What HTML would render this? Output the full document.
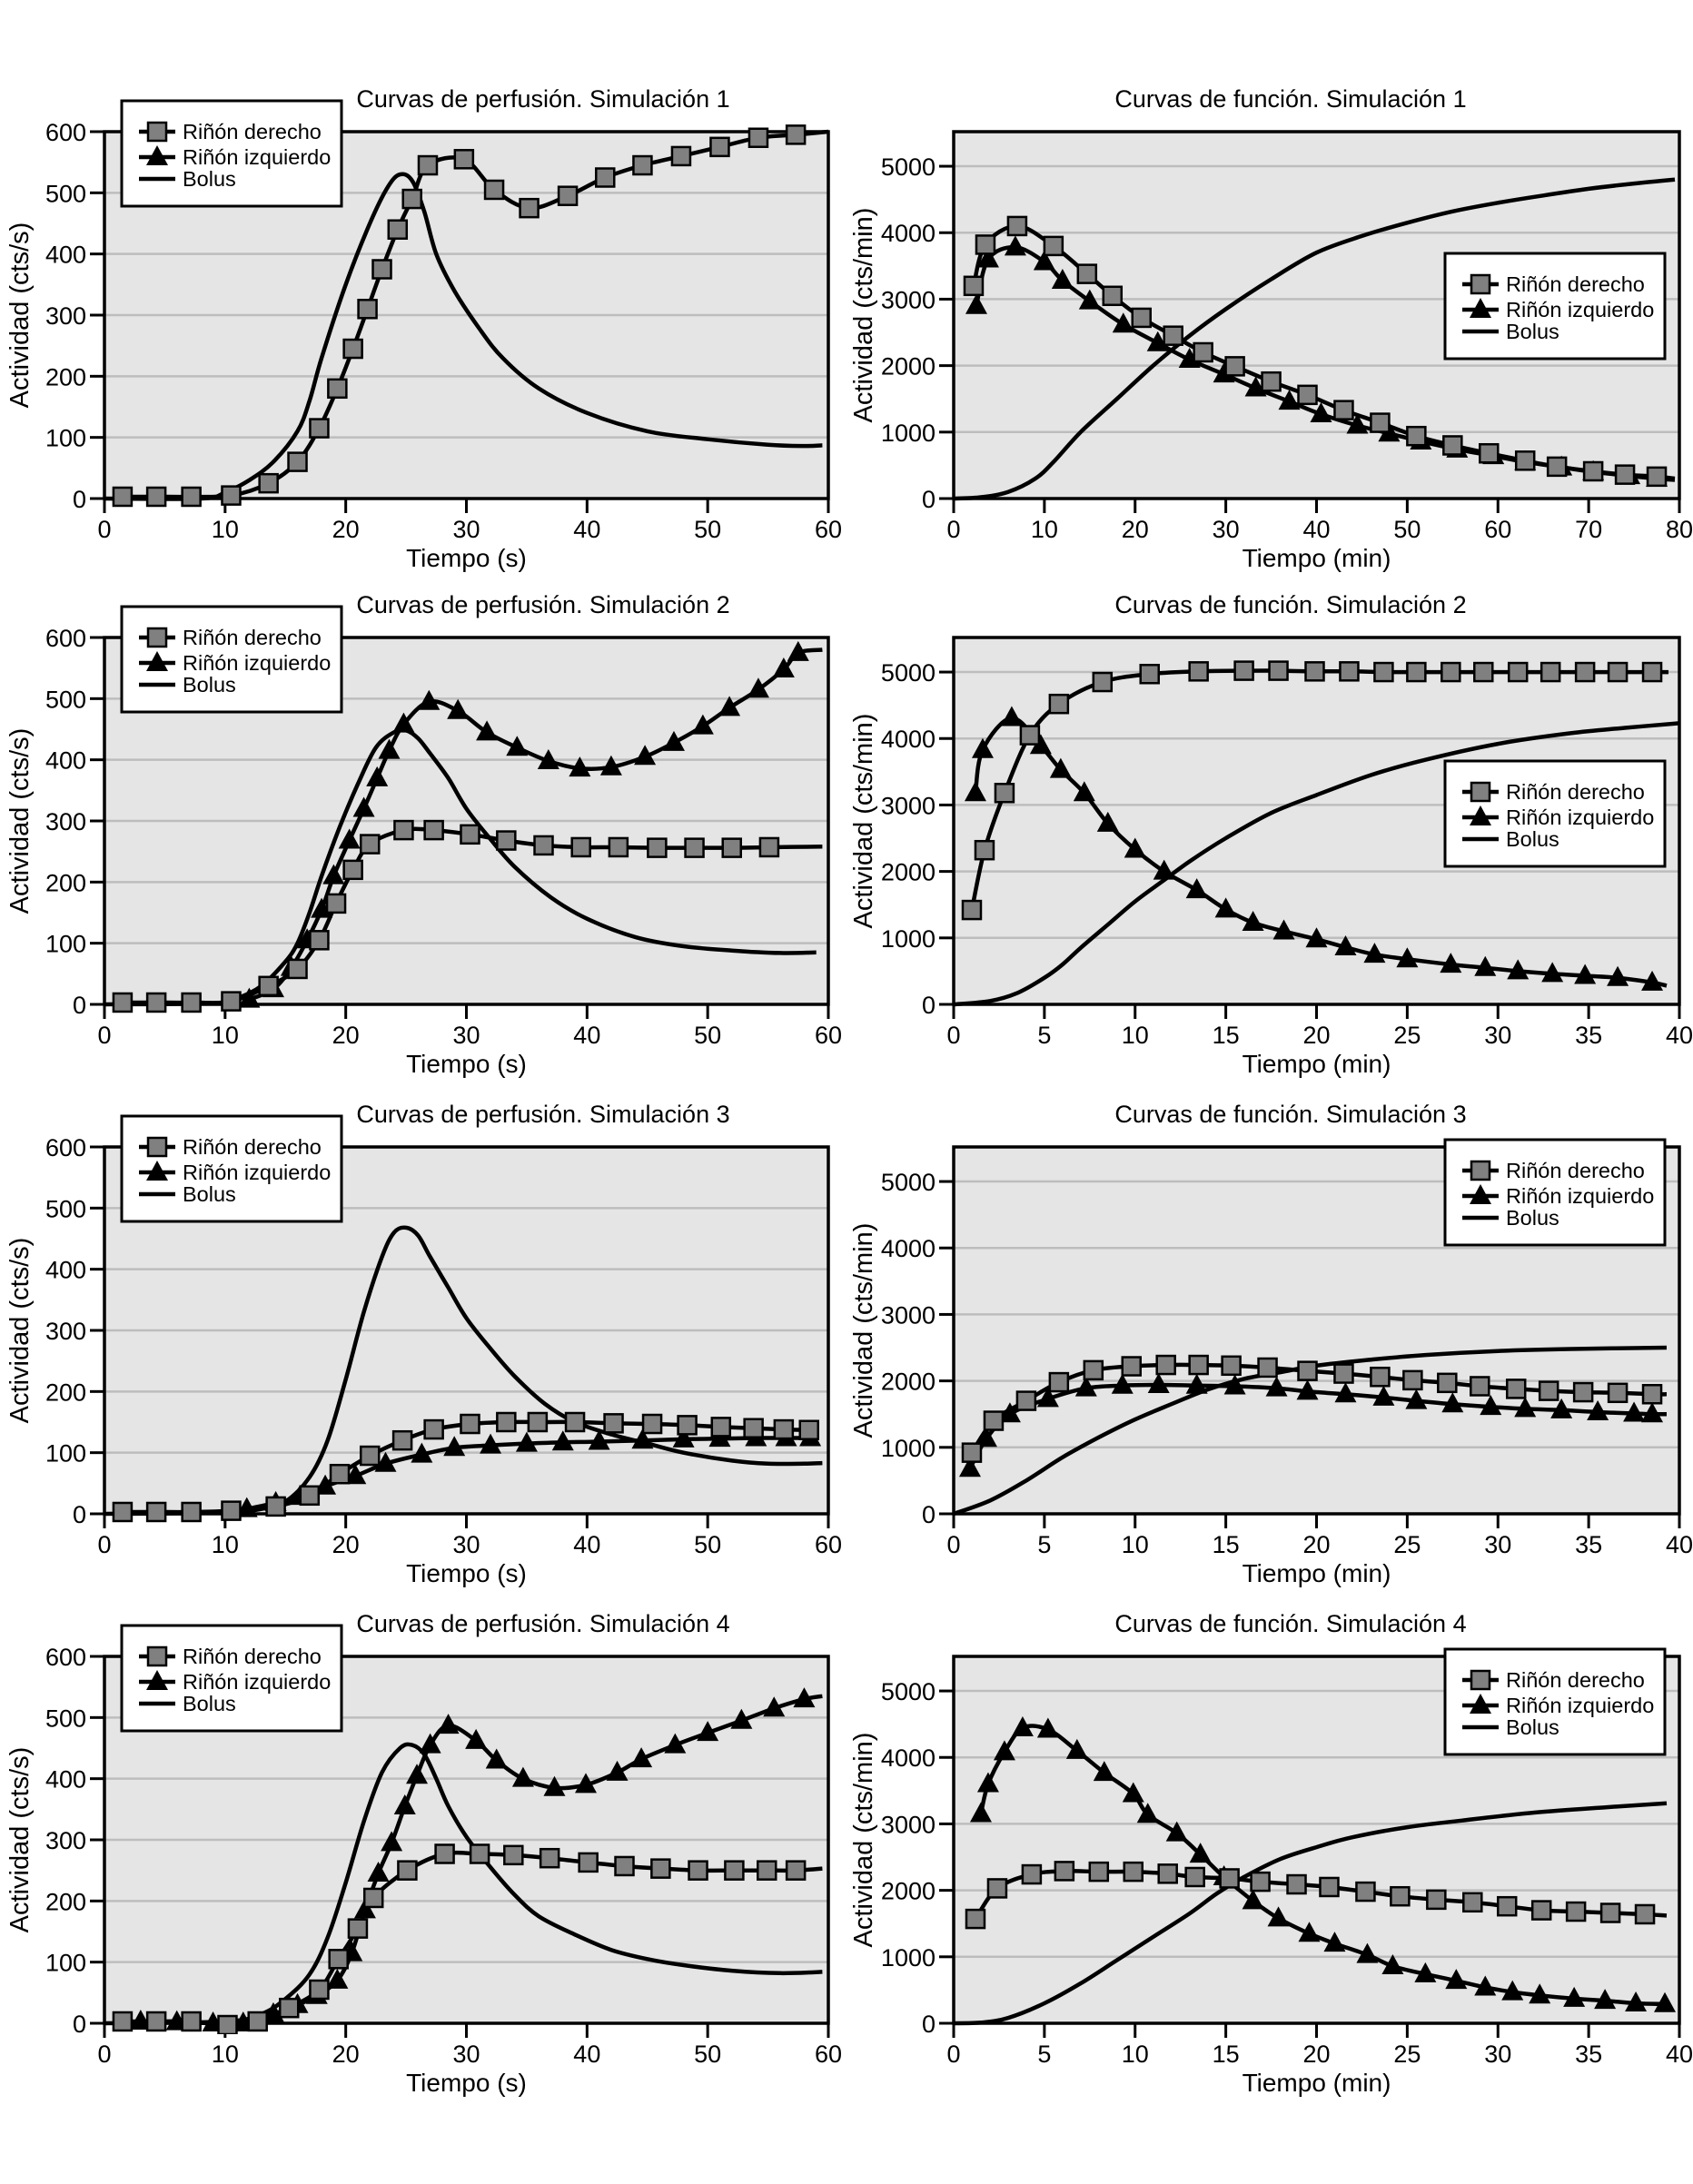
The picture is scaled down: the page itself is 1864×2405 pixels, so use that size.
<!DOCTYPE html>
<html><head><meta charset="utf-8"><style>
body{margin:0;background:#fff}
svg text{font-family:"Liberation Sans",sans-serif;fill:#000}
</style></head><body>
<svg id="fig" xmlns="http://www.w3.org/2000/svg" width="1864" height="2400" viewBox="0 0 1864 2400"></svg>
<script>
// ---- data arrays (x, y pairs) ----
const p1Sq=[[1.5,3],[4.3,3],[7.2,3],[10.5,5],[13.6,25],[16,60],[17.8,115],[19.3,180],[20.6,245],[21.8,310],[23,375],[24.3,440],[25.5,490],[26.8,545],[29.8,555],[32.3,505],[35.2,475],[38.4,495],[41.5,525],[44.6,545],[47.8,560],[51,575],[54.2,590],[57.3,595]];
const p1SqEnd=[[60,600]];
const p1Bol=[[0,0],[8,0],[10,10],[12,30],[14,60],[16,110],[17,160],[18,230],[20,350],[22,450],[23.5,510],[24.5,530],[25.5,520],[26.5,470],[27.5,400],[29,340],[31,280],[33,230],[36,180],[40,140],[45,110],[50,97],[55,88],[58,86],[59.5,87]];

const p2Sq=[[1.5,3],[4.3,3],[7.2,3],[10.5,5],[13.6,30],[16,58],[17.8,105],[19.2,165],[20.6,220],[22,262],[24.8,285],[27.3,285],[30.3,278],[33.3,268],[36.4,260],[39.5,257],[42.6,257],[45.8,256],[48.9,256],[52,256],[55.1,257]];
const p2SqEnd=[[59.5,258]];
const p2Tri=[[12,8],[14,25],[15.5,60],[16.8,105],[18,155],[19,210],[20.3,268],[21.5,320],[22.6,370],[23.6,415],[24.8,458],[26.9,495],[29.3,480],[31.7,445],[34.2,420],[36.8,398],[39.4,386],[42,388],[44.8,405],[47.2,428],[49.6,455],[51.8,485],[54.2,515],[56.3,548],[57.5,575]];
const p2TriEnd=[[59.5,580]];
const p2Bol=[[0,0],[9,2],[11,10],[13,30],[15,70],[16,100],[17,150],[18,210],[19.5,290],[21,360],[22.5,420],[24,445],[25,448],[26,435],[27,410],[28.5,370],[30,320],[32,270],[34,225],[37,175],[40,140],[44,110],[48,95],[52,88],[56,84],[59,85]];

const p3Sq=[[1.5,3],[4.3,3],[7.2,3],[10.5,5],[14.2,12],[17,30],[19.5,65],[22,95],[24.7,120],[27.3,138],[30.3,147],[33.3,150],[35.9,150],[39,150],[42.2,148],[45.4,147],[48.3,145],[51.1,142],[53.8,140],[56.3,138],[58.4,137]];
const p3Tri=[[11.8,8],[14.2,18],[16.2,28],[18.3,45],[20.8,62],[23.3,82],[26.3,97],[29,108],[32,112],[35,115],[38,117],[41,118],[44.6,120],[48,122],[51,123],[54,124],[56.5,124],[58.5,124]];
const p3Bol=[[0,0],[10,2],[13,8],[15,20],[17,60],[18.5,120],[20,220],[21.5,330],[23,420],[24,460],[25,468],[26,455],[27,420],[28.5,370],[30,320],[32,270],[34,225],[36.5,180],[39,150],[42,130],[45,115],[48,100],[52,87],[55,82],[58,82],[59.5,83]];

const p4Sq=[[1.5,3],[4.3,3],[7.2,3],[10.2,-3],[12.7,3],[15.3,25],[17.8,55],[19.4,105],[21,155],[22.3,205],[25.1,250],[28.2,277],[31.1,277],[33.9,275],[36.9,270],[40.1,263],[43.1,257],[46.1,253],[49.2,250],[52.2,250],[54.9,250],[57.3,250]];
const p4SqEnd=[[59.5,253]];
const p4Tri=[[3,3],[6,2],[9,0],[11.5,0],[14,15],[16,30],[17.6,45],[19.3,70],[20.5,115],[21.6,185],[22.7,245],[23.8,295],[24.9,355],[25.9,405],[27,455],[28.5,487],[30.8,462],[32.5,430],[34.7,400],[37.3,385],[39.9,390],[42.5,410],[44.5,432],[47.3,455],[50,475],[52.8,495],[55.5,515],[58,530]];
const p4TriEnd=[[59.5,535]];
const p4Bol=[[0,0],[10,3],[13,15],[15,40],[17,80],[18.5,140],[20,230],[21.5,330],[23,410],[24.5,450],[25.5,455],[26.5,440],[27.5,400],[28.5,355],[30,305],[32,255],[34,210],[36,175],[39,145],[42,120],[45,105],[48,95],[52,86],[56,82],[59.5,84]];

const r1Sq=[[2.2,3200],[3.5,3820],[7,4100],[11,3800],[14.7,3380],[17.5,3050],[20.7,2720],[24.2,2450],[27.5,2200],[31,1990],[35,1760],[39,1560],[43,1330],[47,1140],[51,940],[55,800],[59,680],[63,570],[66.5,480],[70.5,410],[74,360],[77.5,330]];
const r1SqEnd=[[79.5,300]];
const r1Tri=[[2.5,2900],[3.8,3600],[6.8,3780],[10,3560],[12,3280],[15,2970],[18.7,2620],[22.5,2340],[26,2090],[29.8,1870],[33.3,1660],[37,1460],[40.5,1270],[44.5,1100],[48,980],[51.5,860],[55.5,740],[59.5,640],[63,550],[67,470],[70.5,400],[74.5,340],[77.5,300]];
const r1TriEnd=[[79.5,280]];
const r1Bol=[[0,0],[3,20],[6,100],[9,300],[11,550],[14,1000],[18,1500],[22,2000],[26,2450],[30,2850],[35,3300],[40,3700],[45,3950],[50,4150],[55,4320],[60,4450],[65,4560],[70,4660],[75,4740],[79.5,4800]];

const r2Sq=[[1.0,1420],[1.7,2320],[2.8,3180],[4.2,4050],[5.8,4520],[8.2,4850],[10.8,4970],[13.5,5010],[16,5020],[17.9,5020],[19.9,5010],[21.8,5010],[23.7,5000],[25.5,5000],[27.4,5000],[29.2,5000],[31.1,5000],[32.9,5000],[34.8,5000],[36.6,5000],[38.5,5000]];
const r2SqEnd=[[39.4,5000]];
const r2Tri=[[1.2,3180],[1.6,3830],[3.2,4310],[4.8,3890],[5.9,3530],[7.2,3180],[8.5,2720],[10,2330],[11.6,2000],[13.4,1720],[15,1430],[16.5,1230],[18.2,1100],[20,980],[21.6,860],[23.2,750],[25,680],[27.4,600],[29.3,550],[31.1,500],[33,460],[34.8,430],[36.6,400],[38.5,330]];
const r2TriEnd=[[39.3,280]];
const r2Bol=[[0,0],[2,50],[3.5,170],[5,400],[6,600],[7,850],[8.5,1200],[10,1550],[11.5,1850],[13,2150],[15,2500],[17.5,2880],[20,3150],[23,3450],[26,3680],[30,3920],[34,4080],[37,4160],[40,4230]];

const r3Sq=[[1.0,920],[2.2,1400],[4.0,1700],[5.8,1980],[7.7,2160],[9.8,2220],[11.7,2240],[13.5,2240],[15.3,2230],[17.3,2200],[19.5,2150],[21.5,2110],[23.5,2060],[25.3,2010],[27.2,1970],[29,1920],[31,1880],[32.8,1850],[34.7,1830],[36.6,1820],[38.5,1800]];
const r3SqEnd=[[39.3,1800]];
const r3Tri=[[0.9,680],[1.8,1130],[3.1,1500],[5.2,1730],[7.3,1890],[9.3,1930],[11.3,1940],[13.4,1930],[15.5,1920],[17.8,1890],[19.5,1840],[21.6,1800],[23.7,1750],[25.5,1700],[27.5,1650],[29.6,1610],[31.5,1580],[33.5,1560],[35.5,1530],[37.5,1510],[38.5,1500]];
const r3TriEnd=[[39.3,1500]];
const r3Bol=[[0,0],[2,200],[4,500],[6,850],[8,1150],[10,1420],[12,1650],[14,1870],[16,2030],[18,2130],[20,2230],[23,2320],[26,2390],[30,2450],[34,2480],[39.3,2500]];

const r4Sq=[[1.2,1570],[2.4,2030],[4.3,2240],[6.1,2290],[8,2280],[9.9,2280],[11.8,2250],[13.3,2200],[15.2,2180],[16.9,2130],[18.9,2090],[20.7,2050],[22.7,1980],[24.6,1910],[26.6,1860],[28.6,1820],[30.5,1760],[32.4,1700],[34.3,1680],[36.2,1660],[38.1,1640]];
const r4SqEnd=[[39.3,1620]];
const r4Tri=[[1.5,3150],[1.9,3600],[2.8,4080],[3.8,4440],[5.2,4420],[6.8,4100],[8.3,3770],[9.9,3450],[10.7,3140],[12.3,2860],[13.6,2540],[14.9,2200],[16.5,1840],[17.9,1580],[19.6,1350],[21,1200],[22.8,1030],[24.2,860],[26,740],[27.7,640],[29.3,540],[30.8,470],[32.3,420],[34.2,370],[35.9,340],[37.6,300],[39.2,290]];
const r4Bol=[[0,0],[1.5,10],[3,80],[5,300],[7,600],[9,950],[11,1300],[13,1650],[14.5,1950],[16,2200],[18,2470],[20,2650],[22,2800],[25,2950],[28,3050],[32,3170],[36,3250],[39.3,3310]];

const leftTicksY=[0,100,200,300,400,500,600];
const leftTicksX=[0,10,20,30,40,50,60];
const rightTicksY=[0,1000,2000,3000,4000,5000];
const rightTicksX80=[0,10,20,30,40,50,60,70,80];
const rightTicksX40=[0,5,10,15,20,25,30,35,40];

const NS='http://www.w3.org/2000/svg';
const svg=document.getElementById('fig');
function mk(tag,attrs,parent){const e=document.createElementNS(NS,tag);for(const k in attrs)e.setAttribute(k,attrs[k]);(parent||svg).appendChild(e);return e;}

function smoothPath(pts){
  let d='M'+pts[0][0].toFixed(1)+','+pts[0][1].toFixed(1);
  for(let i=0;i<pts.length-1;i++){
    const p0=pts[Math.max(0,i-1)],p1=pts[i],p2=pts[i+1],p3=pts[Math.min(pts.length-1,i+2)];
    const c1=[p1[0]+(p2[0]-p0[0])/6,p1[1]+(p2[1]-p0[1])/6];
    const c2=[p2[0]-(p3[0]-p1[0])/6,p2[1]-(p3[1]-p1[1])/6];
    d+='C'+c1[0].toFixed(1)+','+c1[1].toFixed(1)+' '+c2[0].toFixed(1)+','+c2[1].toFixed(1)+' '+p2[0].toFixed(1)+','+p2[1].toFixed(1);
  }
  return d;
}

function panel(cfg){
  const g=mk('g',{});
  
  
  const X0=cfg.x0,X1=cfg.x1,Y0=cfg.top+404,Y1=cfg.top;
  const sx=v=>X0+(v-cfg.xmin)/(cfg.xmax-cfg.xmin)*(X1-X0);
  const sy=v=>Y0-(v/cfg.ymax)*(Y0-Y1);
  const bg=mk('rect',{x:X0,y:Y1,width:X1-X0,height:Y0-Y1,fill:'#e5e5e5'},g);
  
  cfg.yt.forEach(t=>{
    if(t>0){const gl=mk('line',{x1:X0,x2:X1,y1:sy(t),y2:sy(t),stroke:'#bdbdbd','stroke-width':2.5},g);
      }
    const tk=mk('line',{x1:X0-16,x2:X0,y1:sy(t),y2:sy(t),stroke:'#000','stroke-width':3},g);
    
    const tl=mk('text',{x:X0-20,y:sy(t)+10,'font-size':27,'text-anchor':'end'},g);tl.textContent=t;
    
  });
  cfg.xt.forEach(t=>{
    const tk=mk('line',{x1:sx(t),x2:sx(t),y1:Y0,y2:Y0+16,stroke:'#000','stroke-width':3},g);
    
    const tl=mk('text',{x:sx(t),y:Y0+43,'font-size':27,'text-anchor':'middle'},g);tl.textContent=t;
    
  });
  const fr=mk('rect',{x:X0,y:Y1,width:X1-X0,height:Y0-Y1,fill:'none',stroke:'#000','stroke-width':3.5},g);
  
  const ti=mk('text',{x:cfg.titleX,y:Y1-27,'font-size':27,'text-anchor':'middle'},g);ti.textContent=cfg.title;
  
  const xt=mk('text',{x:(X0+X1)/2,y:Y0+75,'font-size':28,'text-anchor':'middle'},g);xt.textContent=cfg.xlabel;
  
  const yx=cfg.ylabx,yy=(Y0+Y1)/2;
  const yt=mk('text',{x:yx,y:yy,'font-size':29,'text-anchor':'middle',transform:'rotate(-90 '+yx+' '+yy+')'},g);yt.textContent=cfg.ylabel;
  

  const clipId='c'+cfg.name;
  const cp=mk('clipPath',{id:clipId},g);mk('rect',{x:X0,y:Y1-12,width:X1-X0+2,height:Y0-Y1+24},cp);
  const plot=mk('g',{'clip-path':'url(#'+clipId+')'},g);
  function line(data,name){
    const pts=data.map(p=>[sx(p[0]),sy(p[1])]);
    const l=mk('path',{d:smoothPath(pts),fill:'none',stroke:'#000','stroke-width':4.5,'stroke-linejoin':'round'},plot);
    
  }
  line(cfg.bol,'bolus-line');
  if(cfg.tri){line(cfg.tri.concat(cfg.triEnd||[]),'left-kidney-line');}
  line(cfg.sq.concat(cfg.sqEnd||[]),'right-kidney-line');
  if(cfg.tri) cfg.tri.forEach(p=>{const x=sx(p[0]),y=sy(p[1]);
    const m=mk('polygon',{points:(x)+','+(y-13)+' '+(x-12)+','+(y+9)+' '+(x+12)+','+(y+9),fill:'#000'},plot);
    });
  cfg.sq.forEach(p=>{const x=sx(p[0]),y=sy(p[1]);
    const m=mk('rect',{x:x-10,y:y-10,width:20,height:20,fill:'#808080',stroke:'#000','stroke-width':2.5},plot);
    });

  // legend
  const L=cfg.leg;const lg=mk('g',{},g);
  
  mk('rect',{x:L[0],y:L[1],width:242,height:116,fill:'#fff',stroke:'#000','stroke-width':3},lg);
  const lx=L[0]+19,rows=[L[1]+34,L[1]+62,L[1]+90];
  const e1=mk('g',{},lg);
  mk('line',{x1:lx,x2:lx+40,y1:rows[0],y2:rows[0],stroke:'#000','stroke-width':4.5},e1);
  mk('rect',{x:lx+10,y:rows[0]-10,width:20,height:20,fill:'#808080',stroke:'#000','stroke-width':2.5},e1);
  mk('text',{x:lx+48,y:rows[0]+8,'font-size':23.5},e1).textContent='Riñón derecho';
  const e2=mk('g',{},lg);
  mk('line',{x1:lx,x2:lx+40,y1:rows[1],y2:rows[1],stroke:'#000','stroke-width':4.5},e2);
  mk('polygon',{points:(lx+20)+','+(rows[1]-13)+' '+(lx+8)+','+(rows[1]+9)+' '+(lx+32)+','+(rows[1]+9),fill:'#000'},e2);
  mk('text',{x:lx+48,y:rows[1]+8,'font-size':23.5},e2).textContent='Riñón izquierdo';
  const e3=mk('g',{},lg);
  mk('line',{x1:lx,x2:lx+40,y1:rows[2]-4,y2:rows[2]-4,stroke:'#000','stroke-width':4.5},e3);
  mk('text',{x:lx+48,y:rows[2]+4,'font-size':23.5},e3).textContent='Bolus';
}

const tops=[145,702,1263,1824];
const LX0=115,LX1=912,RX0=1050,RX1=1849;
const left=[[p1Sq,p1SqEnd,null,null,p1Bol],[p2Sq,p2SqEnd,p2Tri,p2TriEnd,p2Bol],[p3Sq,null,p3Tri,null,p3Bol],[p4Sq,p4SqEnd,p4Tri,p4TriEnd,p4Bol]];
const right=[[r1Sq,r1SqEnd,r1Tri,r1TriEnd,r1Bol],[r2Sq,r2SqEnd,r2Tri,r2TriEnd,r2Bol],[r3Sq,r3SqEnd,r3Tri,r3TriEnd,r3Bol],[r4Sq,r4SqEnd,r4Tri,null,r4Bol]];
const rLegY=[279,838,1255,1816];
for(let i=0;i<4;i++){
  const a=left[i];
  panel({name:'perfusion-chart-'+(i+1),x0:LX0,x1:LX1,top:tops[i],xmin:0,xmax:60,ymax:600,yt:leftTicksY,xt:leftTicksX,
    title:'Curvas de perfusión. Simulación '+(i+1),titleX:598,xlabel:'Tiempo (s)',ylabel:'Actividad (cts/s)',ylabx:31,
    sq:a[0],sqEnd:a[1],tri:a[2],triEnd:a[3],bol:a[4],leg:[134,tops[i]-34]});
  const b=right[i];
  panel({name:'function-chart-'+(i+1),x0:RX0,x1:RX1,top:tops[i],xmin:0,xmax:i==0?80:40,ymax:5520,yt:rightTicksY,xt:i==0?rightTicksX80:rightTicksX40,
    title:'Curvas de función. Simulación '+(i+1),titleX:1421,xlabel:'Tiempo (min)',ylabel:'Actividad (cts/min)',ylabx:960,
    sq:b[0],sqEnd:b[1],tri:b[2],triEnd:b[3],bol:b[4],leg:[1591,rLegY[i]]});
}
</script>
</body></html>
